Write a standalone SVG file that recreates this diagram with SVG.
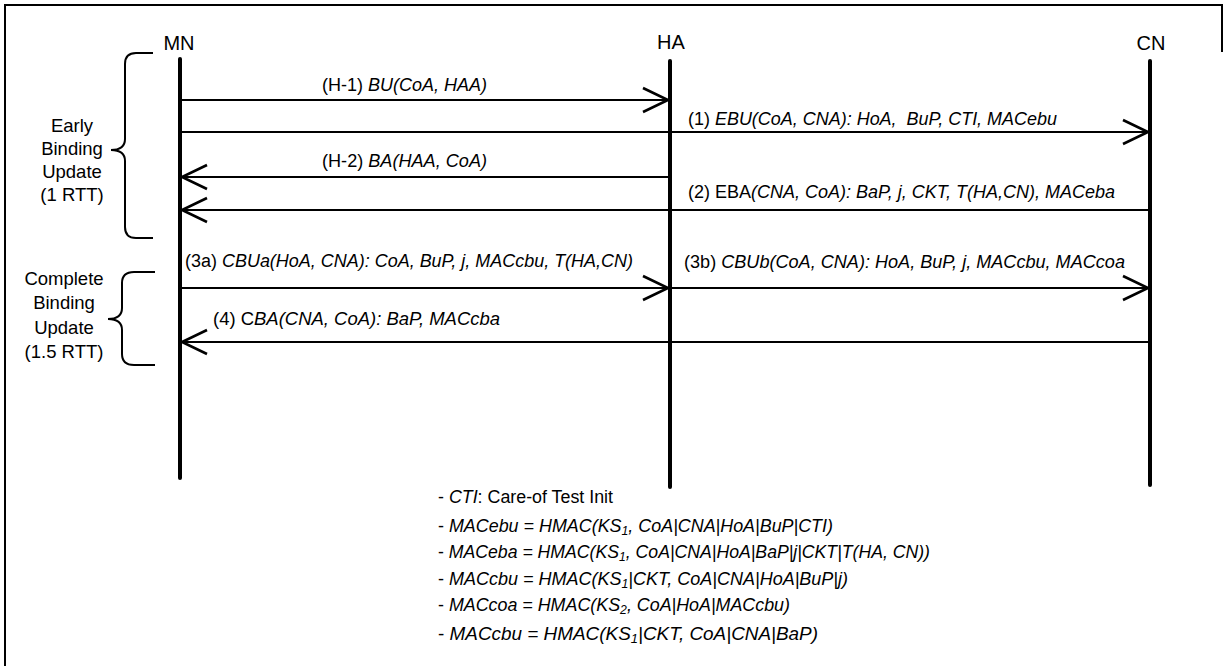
<svg xmlns="http://www.w3.org/2000/svg" width="1223" height="666" viewBox="0 0 1223 666">
<style>
text{font-family:"Liberation Sans",Arial,sans-serif;fill:#000}
.ll{font-size:20px;text-anchor:middle}
.lb{font-size:18px}
.side{font-size:18.5px;text-anchor:middle}
.lg{font-size:17.5px}
.it{font-style:italic}
.life{stroke:#000;stroke-width:4;stroke-linecap:round}
.msg{stroke:#000;stroke-width:2.2;fill:none;marker-end:url(#arr)}
.brace{stroke:#000;stroke-width:2;fill:none}
.sub{font-size:12px}
</style>
<defs>
<marker id="arr" viewBox="-2 -2 30 28" refX="25" refY="12" markerWidth="30" markerHeight="28" markerUnits="userSpaceOnUse" orient="auto" overflow="visible">
<path d="M0,0 L25,12 L0,24" fill="none" stroke="#000" stroke-width="2.6"/>
</marker>
</defs>
<rect width="1223" height="666" fill="#fff"/>
<g id="frame" stroke="#000" stroke-width="2" fill="none">
<path d="M5,666 V5 H1222 V52"/>
</g>
<g id="MN">
<text class="ll" x="179" y="50">MN</text>
<line class="life" x1="180" y1="59" x2="180" y2="478"/>
</g>
<g id="HA">
<text class="ll" x="671" y="49">HA</text>
<line class="life" x1="670" y1="61" x2="670" y2="487"/>
</g>
<g id="CN">
<text class="ll" x="1151" y="50">CN</text>
<line class="life" x1="1150" y1="61" x2="1150" y2="485"/>
</g>
<g id="early-brace">
<path class="brace" d="M153,53 H136 Q125,53 125,64 V139 Q125,150 111,150 Q125,150 125,161 V227 Q125,238 136,238 H153"/>
<text class="side" x="72" y="132">Early</text>
<text class="side" x="72" y="155">Binding</text>
<text class="side" x="72" y="178">Update</text>
<text class="side" x="72" y="201">(1 RTT)</text>
</g>
<g id="complete-brace">
<path class="brace" d="M155,272 H134 Q122,272 122,283 V308 Q122,319 108,319 Q122,319 122,330 V354 Q122,365 134,365 H155"/>
<text class="side" x="64" y="285">Complete</text>
<text class="side" x="64" y="309">Binding</text>
<text class="side" x="64" y="334">Update</text>
<text class="side" x="64" y="358">(1.5 RTT)</text>
</g>
<g id="connectors">
<path class="msg" d="M180,100 H668"/>
<path class="msg" d="M180,132 H1148"/>
<path class="msg" d="M670,177 H182"/>
<path class="msg" d="M1150,210 H182"/>
<path class="msg" d="M180,288 H668"/>
<path class="msg" d="M670,288 H1148"/>
<path class="msg" d="M1150,342 H182"/>
</g>
<g id="labels">
<text class="lb" x="322" y="91" textLength="165" lengthAdjust="spacingAndGlyphs">(H-1) <tspan class="it">BU(CoA, HAA)</tspan></text>
<text class="lb" x="688" y="125" textLength="369" lengthAdjust="spacingAndGlyphs" xml:space="preserve">(1) <tspan class="it">EBU(CoA, CNA): HoA,  BuP, CTI, MACebu</tspan></text>
<text class="lb" x="322" y="167" textLength="165" lengthAdjust="spacingAndGlyphs">(H-2) <tspan class="it">BA(HAA, CoA)</tspan></text>
<text class="lb" x="688" y="198" textLength="427" lengthAdjust="spacingAndGlyphs">(2) EBA<tspan class="it">(CNA, CoA): BaP, j, CKT, T(HA,CN), MACeba</tspan></text>
<text class="lb" x="185" y="267" textLength="448" lengthAdjust="spacingAndGlyphs">(3a) <tspan class="it">CBUa(HoA, CNA): CoA, BuP, j, MACcbu, T(HA,CN)</tspan></text>
<text class="lb" x="684" y="268" textLength="441" lengthAdjust="spacingAndGlyphs">(3b) <tspan class="it">CBUb(CoA, CNA): HoA, BuP, j, MACcbu, MACcoa</tspan></text>
<text class="lb" x="213" y="325" textLength="287" lengthAdjust="spacingAndGlyphs">(4) C<tspan class="it">BA(CNA, CoA): BaP, MACcba</tspan></text>
</g>
<g id="legend">
<text class="lg" x="438" y="503" textLength="175" lengthAdjust="spacingAndGlyphs">- <tspan class="it">CTI</tspan>: Care-of Test Init</text>
<text class="lg" x="438" y="532" textLength="395" lengthAdjust="spacingAndGlyphs">- <tspan class="it">MACebu = HMAC(KS<tspan class="sub" dy="3">1</tspan><tspan dy="-3">, CoA|CNA|HoA|BuP|CTI)</tspan></tspan></text>
<text class="lg" x="438" y="558" textLength="492" lengthAdjust="spacingAndGlyphs">- <tspan class="it">MACeba = HMAC(KS<tspan class="sub" dy="3">1</tspan><tspan dy="-3">, CoA|CNA|HoA|BaP|j|CKT|T(HA, CN))</tspan></tspan></text>
<text class="lg" x="438" y="585" textLength="410" lengthAdjust="spacingAndGlyphs">- <tspan class="it">MACcbu = HMAC(KS<tspan class="sub" dy="3">1</tspan><tspan dy="-3">|CKT, CoA|CNA|HoA|BuP|j)</tspan></tspan></text>
<text class="lg" x="438" y="611" textLength="352" lengthAdjust="spacingAndGlyphs">- <tspan class="it">MACcoa = HMAC(KS<tspan class="sub" dy="3">2</tspan><tspan dy="-3">, CoA|HoA|MACcbu)</tspan></tspan></text>
<text class="lg" x="438" y="640" textLength="380" lengthAdjust="spacingAndGlyphs">- <tspan class="it">MACcbu = HMAC(KS<tspan class="sub" dy="3">1</tspan><tspan dy="-3">|CKT, CoA|CNA|BaP)</tspan></tspan></text>
</g>
</svg>
